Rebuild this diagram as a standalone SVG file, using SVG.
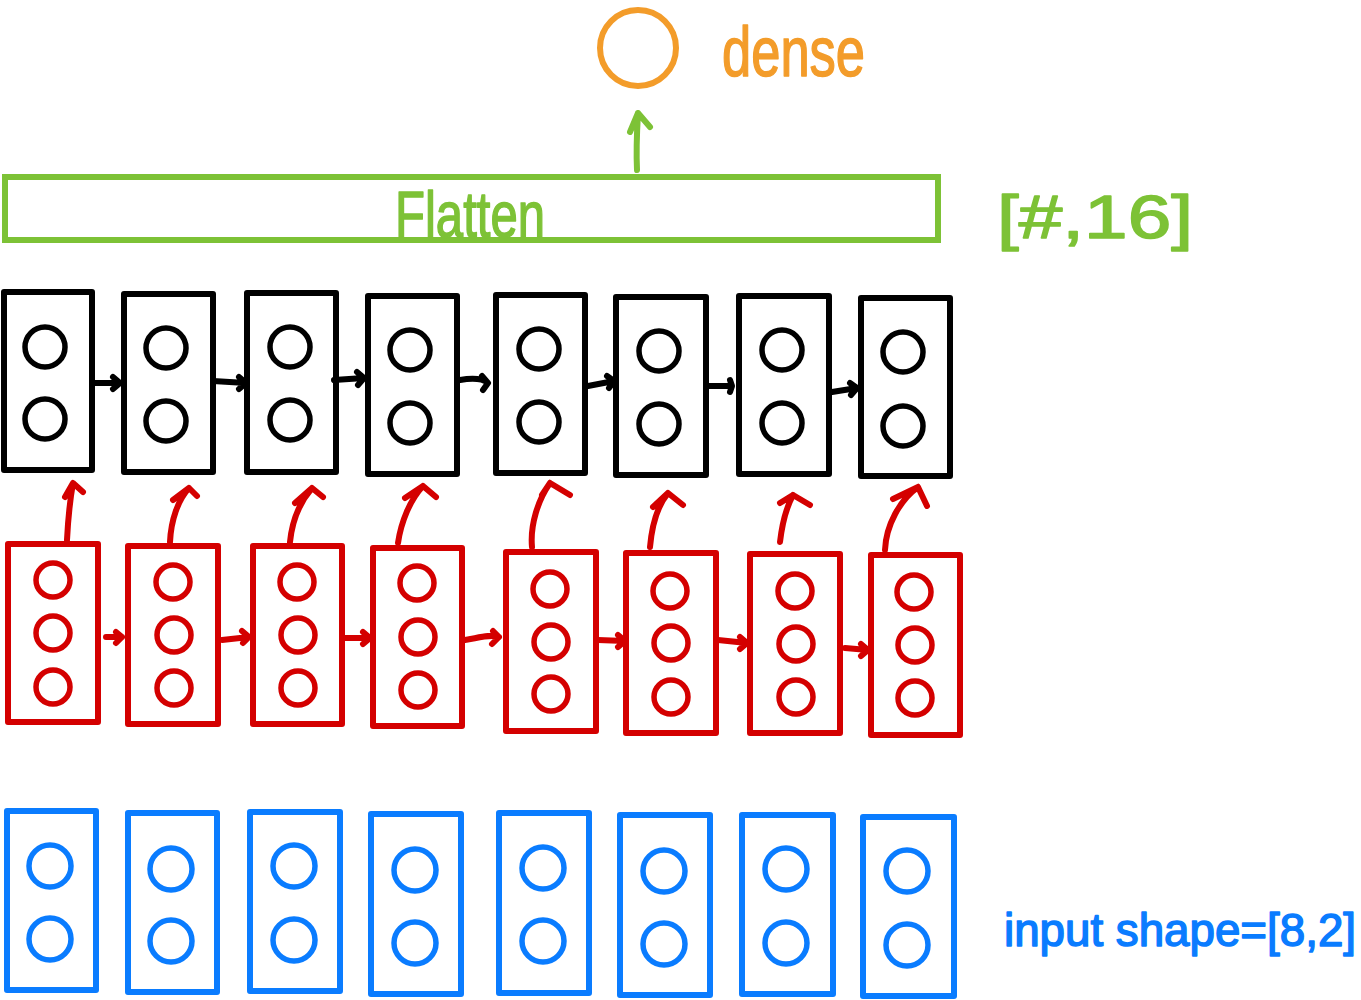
<svg xmlns="http://www.w3.org/2000/svg" width="1361" height="1000" viewBox="0 0 1361 1000">
<style>
.box{fill:#fff;stroke-width:6;stroke-linejoin:round}
.c{fill:none;stroke-width:5.5}
.k{stroke:#000}
.r{stroke:#D40000}
.b{stroke:#0A7CFF}
.ln{fill:none;stroke-width:6;stroke-linecap:round;stroke-linejoin:round}
.lbl{font-family:"Liberation Sans","DejaVu Sans",sans-serif;stroke-width:1.5;stroke-linejoin:round}
</style>
<rect width="1361" height="1000" fill="#fff"/>

<g id="dense">
<circle cx="638" cy="48" r="38" fill="none" stroke="#F39C2A" stroke-width="6"/>
<text class="lbl" x="722" y="76" font-size="70" fill="#F39C2A" stroke="#F39C2A" textLength="143" lengthAdjust="spacingAndGlyphs">dense</text>
</g>

<g id="flatten">
<rect x="5" y="177" width="933" height="63" fill="none" stroke="#7DC236" stroke-width="6"/>
<text class="lbl" x="395" y="237" font-size="64" fill="#7DC236" stroke="#7DC236" stroke-width="1" textLength="150" lengthAdjust="spacingAndGlyphs">Flatten</text>
</g>
<g id="flatten-shape">
<text class="lbl" x="997" y="238" font-size="62" fill="#7DC236" stroke="#7DC236" stroke-width="0.5" textLength="196" lengthAdjust="spacingAndGlyphs">[#,16]</text>
</g>

<g id="input-shape">
<text class="lbl" x="1004" y="946" font-size="46" fill="#0A7CFF" stroke="#0A7CFF" stroke-width="1.5" textLength="352" lengthAdjust="spacingAndGlyphs">input shape=[8,2]</text>
</g>

<!-- black (top) cells -->
<g id="k1"><rect class="box k" x="4" y="292" width="88" height="178"/><circle class="c k" cx="45" cy="347" r="20"/><circle class="c k" cx="45" cy="419" r="20"/></g>
<g id="k2"><rect class="box k" x="124" y="294" width="89" height="178"/><circle class="c k" cx="166" cy="348" r="20"/><circle class="c k" cx="166" cy="421" r="20"/></g>
<g id="k3"><rect class="box k" x="247" y="293" width="89" height="179"/><circle class="c k" cx="290" cy="347" r="20"/><circle class="c k" cx="290" cy="420" r="20"/></g>
<g id="k4"><rect class="box k" x="368" y="296" width="89" height="178"/><circle class="c k" cx="410" cy="350" r="20"/><circle class="c k" cx="410" cy="423" r="20"/></g>
<g id="k5"><rect class="box k" x="496" y="295" width="89" height="178"/><circle class="c k" cx="539" cy="349" r="20"/><circle class="c k" cx="539" cy="422" r="20"/></g>
<g id="k6"><rect class="box k" x="616" y="297" width="90" height="178"/><circle class="c k" cx="659" cy="351" r="20"/><circle class="c k" cx="659" cy="424" r="20"/></g>
<g id="k7"><rect class="box k" x="739" y="296" width="90" height="178"/><circle class="c k" cx="782" cy="350" r="20"/><circle class="c k" cx="782" cy="423" r="20"/></g>
<g id="k8"><rect class="box k" x="861" y="298" width="89" height="178"/><circle class="c k" cx="903" cy="352" r="20"/><circle class="c k" cx="903" cy="426" r="20"/></g>

<!-- red (middle) cells -->
<g id="r1"><rect class="box r" x="8" y="544" width="90" height="178"/><circle class="c r" cx="53" cy="580" r="17"/><circle class="c r" cx="53" cy="633" r="17"/><circle class="c r" cx="53" cy="687" r="17"/></g>
<g id="r2"><rect class="box r" x="128" y="546" width="90" height="178"/><circle class="c r" cx="173" cy="582" r="17"/><circle class="c r" cx="174" cy="635" r="17"/><circle class="c r" cx="174" cy="688" r="17"/></g>
<g id="r3"><rect class="box r" x="253" y="546" width="89" height="178"/><circle class="c r" cx="297" cy="582" r="17"/><circle class="c r" cx="298" cy="635" r="17"/><circle class="c r" cx="298" cy="688" r="17"/></g>
<g id="r4"><rect class="box r" x="373" y="548" width="89" height="178"/><circle class="c r" cx="417" cy="583" r="17"/><circle class="c r" cx="418" cy="637" r="17"/><circle class="c r" cx="418" cy="690" r="17"/></g>
<g id="r5"><rect class="box r" x="506" y="552" width="90" height="179"/><circle class="c r" cx="550" cy="589" r="17"/><circle class="c r" cx="551" cy="642" r="17"/><circle class="c r" cx="551" cy="694" r="17"/></g>
<g id="r6"><rect class="box r" x="626" y="553" width="90" height="180"/><circle class="c r" cx="670" cy="591" r="17"/><circle class="c r" cx="671" cy="643" r="17"/><circle class="c r" cx="671" cy="697" r="17"/></g>
<g id="r7"><rect class="box r" x="750" y="554" width="90" height="179"/><circle class="c r" cx="795" cy="591" r="17"/><circle class="c r" cx="796" cy="644" r="17"/><circle class="c r" cx="796" cy="697" r="17"/></g>
<g id="r8"><rect class="box r" x="871" y="555" width="89" height="180"/><circle class="c r" cx="914" cy="592" r="17"/><circle class="c r" cx="915" cy="645" r="17"/><circle class="c r" cx="915" cy="698" r="17"/></g>

<!-- blue (input) cells -->
<g id="b1"><rect class="box b" x="7" y="811" width="89" height="179"/><circle class="c b" cx="50" cy="866" r="21"/><circle class="c b" cx="50" cy="939" r="21"/></g>
<g id="b2"><rect class="box b" x="128" y="813" width="89" height="179"/><circle class="c b" cx="171" cy="869" r="21"/><circle class="c b" cx="171" cy="941" r="21"/></g>
<g id="b3"><rect class="box b" x="250" y="812" width="90" height="179"/><circle class="c b" cx="294" cy="866" r="21"/><circle class="c b" cx="294" cy="940" r="21"/></g>
<g id="b4"><rect class="box b" x="371" y="814" width="90" height="180"/><circle class="c b" cx="415" cy="870" r="21"/><circle class="c b" cx="415" cy="943" r="21"/></g>
<g id="b5"><rect class="box b" x="499" y="813" width="90" height="180"/><circle class="c b" cx="543" cy="868" r="21"/><circle class="c b" cx="543" cy="941" r="21"/></g>
<g id="b6"><rect class="box b" x="620" y="815" width="90" height="180"/><circle class="c b" cx="664" cy="871" r="21"/><circle class="c b" cx="664" cy="944" r="21"/></g>
<g id="b7"><rect class="box b" x="742" y="815" width="91" height="179"/><circle class="c b" cx="786" cy="869" r="21"/><circle class="c b" cx="786" cy="943" r="21"/></g>
<g id="b8"><rect class="box b" x="863" y="817" width="91" height="179"/><circle class="c b" cx="907" cy="871" r="21"/><circle class="c b" cx="907" cy="945" r="21"/></g>

<g id="connectors">
<!-- flatten to dense -->
<path class="ln" stroke="#7DC236" d="M637,170 C636,150 637,130 638,113 M630,132 L638,113 L650,127"/>
<!-- black recurrent arrows -->
<g class="ln k">
<path d="M95,383 L120,383 M113,377 L120,383 L113,389"/>
<path d="M213,381 L246,383 M239,377 L246,383 L239,389"/>
<path d="M334,380 L364,378 M357,372 L364,378 L358,385"/>
<path d="M460,380 C472,378 482,378 488,383 M482,376 L488,383 L483,390"/>
<path d="M588,386 L614,381 M607,376 L614,381 L609,388"/>
<path d="M708,386 L732,386 M730,380 L732,386 L730,392"/>
<path d="M832,392 L857,388 M850,383 L857,388 L851,395"/>
</g>
<!-- red recurrent arrows -->
<g class="ln r">
<path d="M106,637 L122,637 M116,632 L122,637 L116,643"/>
<path d="M222,640 L249,637 M242,631 L249,637 L243,643"/>
<path d="M345,638 L370,638 M363,632 L370,638 L363,644"/>
<path d="M465,640 C478,638 490,634 499,637 M493,631 L499,637 L492,644"/>
<path d="M598,640 L625,641 M618,635 L625,641 L618,647"/>
<path d="M718,640 L747,643 M740,637 L747,643 L740,649"/>
<path d="M845,648 L868,650 M861,644 L868,650 L861,656"/>
</g>
<!-- red to black (up) arrows -->
<g class="ln r">
<path d="M67,540 C68,520 70,500 73,483 M65,497 L73,483 L83,492"/>
<path d="M170,542 C171,520 178,500 189,488 M173,500 L189,488 L197,496"/>
<path d="M290,542 C292,522 300,502 312,488 M295,503 L312,488 L323,497"/>
<path d="M398,543 C401,522 410,500 423,486 M405,498 L423,486 L436,497"/>
<path d="M532,547 C530,525 538,500 550,483 M542,495 L550,483 L570,495"/>
<path d="M650,547 C652,525 658,505 668,493 M653,507 L668,493 L683,505"/>
<path d="M780,542 C782,525 786,508 793,495 M780,503 L793,495 L810,505"/>
<path d="M885,550 C886,525 900,500 918,487 M893,499 L918,487 L927,506"/>
</g>
</g>
</svg>
